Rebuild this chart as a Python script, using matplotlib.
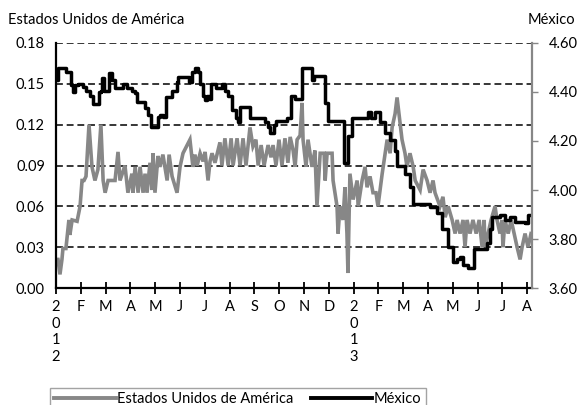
import matplotlib
matplotlib.use("Agg")
import matplotlib.pyplot as plt
from matplotlib.lines import Line2D

plt.rcParams['font.family'] = ['Lato', 'DejaVu Sans']

# x positions are months since January 2012
usa_t = [0.00, 0.08, 0.16, 0.24, 0.28, 0.40, 0.52, 0.56, 0.65, 0.85, 0.97, 1.05, 1.13, 1.21, 1.33,
         1.45, 1.57, 1.69, 1.81, 1.90, 1.98, 2.10, 2.38, 2.50, 2.58, 2.78, 2.90, 3.06, 3.10, 3.19,
         3.31, 3.39, 3.51, 3.59, 3.67, 3.79, 3.87, 3.91, 3.99, 4.11, 4.19, 4.31, 4.48, 4.56, 4.68,
         4.88, 5.00, 5.12, 5.40, 5.52, 5.60, 5.69, 5.81, 5.93, 6.01, 6.13, 6.21, 6.29, 6.41, 6.61,
         6.69, 6.81, 6.94, 7.06, 7.14, 7.30, 7.42, 7.54, 7.66, 7.82, 7.94, 8.06, 8.15, 8.27, 8.39,
         8.55, 8.67, 8.75, 8.87, 8.99, 9.11, 9.23, 9.35, 9.44, 9.56, 9.64, 9.72, 9.84, 9.92, 9.96,
         10.08, 10.16, 10.32, 10.44, 10.52, 10.65, 10.81, 10.85, 10.93, 11.13, 11.17, 11.33, 11.37,
         11.45, 11.57, 11.65, 11.73, 11.77, 11.85, 11.98, 12.14, 12.18, 12.34, 12.46, 12.54, 12.66,
         12.78, 12.90, 12.98, 13.15, 13.27, 13.35, 13.47, 13.55, 13.67, 13.75, 13.87, 13.95, 14.07,
         14.15, 14.27, 14.40, 14.48, 14.68, 14.80, 14.96, 15.08, 15.20, 15.28, 15.48, 15.60, 15.69,
         15.81, 15.97, 16.09, 16.17, 16.29, 16.41, 16.49, 16.57, 16.69, 16.81, 16.94, 17.06, 17.18,
         17.26, 17.30, 17.42, 17.54, 17.70, 17.78, 17.90, 17.98, 18.02, 18.10, 18.23, 18.35, 18.47,
         18.59, 18.71, 18.79, 18.91, 19.03, 19.15]
usa_v = [0.021, 0.021, 0.010, 0.021, 0.029, 0.029, 0.050, 0.039, 0.050, 0.049, 0.060, 0.079, 0.079,
         0.082, 0.120, 0.089, 0.079, 0.087, 0.120, 0.079, 0.070, 0.079, 0.079, 0.100, 0.079, 0.090,
         0.070, 0.084, 0.070, 0.089, 0.070, 0.089, 0.070, 0.084, 0.070, 0.092, 0.072, 0.099, 0.070,
         0.097, 0.089, 0.098, 0.079, 0.098, 0.082, 0.070, 0.089, 0.099, 0.109, 0.089, 0.098, 0.090,
         0.099, 0.093, 0.100, 0.079, 0.093, 0.099, 0.092, 0.107, 0.090, 0.110, 0.090, 0.110, 0.090,
         0.110, 0.090, 0.110, 0.090, 0.118, 0.104, 0.109, 0.090, 0.105, 0.090, 0.105, 0.096, 0.105,
         0.090, 0.109, 0.090, 0.110, 0.092, 0.111, 0.101, 0.089, 0.109, 0.112, 0.136, 0.109, 0.089,
         0.109, 0.089, 0.101, 0.060, 0.099, 0.099, 0.079, 0.099, 0.099, 0.079, 0.060, 0.040, 0.060,
         0.050, 0.074, 0.040, 0.011, 0.084, 0.065, 0.079, 0.060, 0.079, 0.089, 0.074, 0.082, 0.070,
         0.070, 0.060, 0.084, 0.099, 0.109, 0.099, 0.118, 0.128, 0.140, 0.121, 0.109, 0.099, 0.089,
         0.099, 0.089, 0.079, 0.072, 0.087, 0.079, 0.070, 0.079, 0.070, 0.060, 0.067, 0.052, 0.060,
         0.050, 0.040, 0.050, 0.040, 0.050, 0.030, 0.050, 0.040, 0.050, 0.040, 0.050, 0.030, 0.050,
         0.030, 0.040, 0.050, 0.060, 0.050, 0.040, 0.050, 0.030, 0.050, 0.040, 0.050, 0.040, 0.030,
         0.021, 0.030, 0.040, 0.030, 0.040]

mex_t = [0.00, 0.08, 0.32, 0.40, 0.52, 0.60, 0.69, 0.77, 0.89, 1.09, 1.21, 1.37, 1.49, 1.65, 1.73,
         1.81, 1.85, 1.94, 2.10, 2.14, 2.26, 2.38, 2.58, 2.70, 2.86, 3.06, 3.19, 3.27, 3.51, 3.59,
         3.71, 3.83, 3.99, 4.11, 4.19, 4.31, 4.44, 4.60, 4.68, 4.80, 4.88, 4.92, 5.24, 5.36, 5.48,
         5.60, 5.73, 5.81, 5.93, 6.01, 6.09, 6.17, 6.25, 6.33, 6.45, 6.61, 6.69, 6.81, 6.94, 7.10,
         7.26, 7.34, 7.42, 7.78, 7.82, 8.31, 8.43, 8.55, 8.63, 8.79, 8.87, 9.23, 9.31, 9.44, 9.48,
         9.64, 9.84, 9.92, 10.28, 10.32, 10.40, 10.73, 10.85, 10.97, 11.57, 11.61, 11.77, 11.94,
         12.54, 12.58, 12.70, 12.86, 13.06, 13.27, 13.47, 13.67, 13.75, 13.99, 14.07, 14.27, 14.40,
         14.96, 15.08, 15.36, 15.56, 15.81, 16.01, 16.17, 16.29, 16.41, 16.61, 16.81, 16.85, 17.30,
         17.38, 17.50, 17.58, 17.90, 18.10, 18.31, 18.51, 18.91, 19.03, 19.19]
mex_v = [4.450, 4.500, 4.500, 4.483, 4.483, 4.428, 4.400, 4.428, 4.433, 4.422, 4.406, 4.383, 4.350,
         4.350, 4.400, 4.406, 4.456, 4.406, 4.406, 4.478, 4.450, 4.417, 4.417, 4.433, 4.417, 4.406,
         4.394, 4.361, 4.361, 4.333, 4.306, 4.256, 4.256, 4.300, 4.306, 4.300, 4.378, 4.378, 4.406,
         4.406, 4.439, 4.461, 4.461, 4.439, 4.483, 4.500, 4.483, 4.433, 4.383, 4.367, 4.383, 4.372,
         4.433, 4.433, 4.417, 4.417, 4.433, 4.406, 4.383, 4.328, 4.294, 4.278, 4.339, 4.339, 4.294,
         4.294, 4.278, 4.256, 4.233, 4.267, 4.283, 4.283, 4.294, 4.294, 4.383, 4.372, 4.372, 4.500,
         4.500, 4.450, 4.467, 4.467, 4.356, 4.283, 4.283, 4.111, 4.222, 4.294, 4.294, 4.317, 4.294,
         4.317, 4.278, 4.233, 4.206, 4.161, 4.100, 4.100, 4.067, 4.011, 3.944, 3.944, 3.931, 3.906,
         3.839, 3.767, 3.706, 3.717, 3.728, 3.694, 3.683, 3.683, 3.761, 3.761, 3.783, 3.839, 3.889,
         3.900, 3.878, 3.889, 3.869, 3.867, 3.900, 3.900]

month_labels = ['2\n0\n1\n2', 'F', 'M', 'A', 'M', 'J', 'J', 'A', 'S', 'O', 'N', 'D',
                '2\n0\n1\n3', 'F', 'M', 'A', 'M', 'J', 'J', 'A']
left_ticks = [0.00, 0.03, 0.06, 0.09, 0.12, 0.15, 0.18]
right_ticks = [3.60, 3.80, 4.00, 4.20, 4.40, 4.60]

series_names = ['Estados Unidos de América', 'México']

fig = plt.figure(figsize=(5.83, 4.05), dpi=100)
ax = fig.add_axes([56/583, 1-288/405, (532-56)/583, (288-43)/405])
ax2 = ax.twinx()

gray = '#878787'
ax.plot(usa_t, usa_v, color=gray, lw=2.6, solid_joinstyle='miter')
ax2.plot(mex_t, mex_v, color='black', lw=2.5, drawstyle='steps-post')

ax.set_xlim(0, 19.19)
ax.set_ylim(0, 0.18)
ax2.set_ylim(3.6, 4.6)

ax.set_yticks(left_ticks)
ax.set_yticklabels([f'{t:.2f}' for t in left_ticks], fontsize=10.5)
ax.tick_params(axis='y', length=0, pad=8)
for t in left_ticks[1:]:
    ax.axhline(t, color='black', lw=1.1, ls=(0, (4.5, 2.5)), zorder=0.5)

ax2.set_yticks(right_ticks)
ax2.set_yticklabels([f'{t:.2f}' for t in right_ticks], fontsize=10.5)
ax2.tick_params(axis='y', length=4, width=1, color=gray, pad=8)

ax.set_xticks(range(len(month_labels)))
ax.set_xticklabels(month_labels, fontsize=10.5, linespacing=1.25, va='top')
ax.tick_params(axis='x', direction='inout', length=9, width=1.3, color='black', pad=4)

for a in (ax, ax2):
    a.spines['top'].set_visible(False)
ax.spines['right'].set_visible(False)
ax2.spines['left'].set_visible(False)
ax2.spines['bottom'].set_visible(False)
ax.spines['left'].set_linewidth(1.6)
ax.spines['bottom'].set_linewidth(1.6)
ax2.spines['right'].set_color(gray)
ax2.spines['right'].set_linewidth(1.6)

fig.text(8/583, 1-20/405, series_names[0], fontsize=10.5, va='center', ha='left')
fig.text(575/583, 1-20/405, series_names[1], fontsize=10.5, va='center', ha='right')

handles = [Line2D([], [], color=gray, lw=2.8), Line2D([], [], color='black', lw=2.8)]
leg = fig.legend(handles, series_names, loc='upper left', bbox_to_anchor=(50/583, 1-388/405),
                 ncol=2, frameon=True, fancybox=False, fontsize=10.5, handlelength=4.2,
                 handletextpad=0.1, columnspacing=1.2, borderpad=0.3, borderaxespad=0)
leg.get_frame().set_edgecolor('#8c8c8c')
leg.get_frame().set_linewidth(1.0)

fig.savefig('out.png', dpi=100)
